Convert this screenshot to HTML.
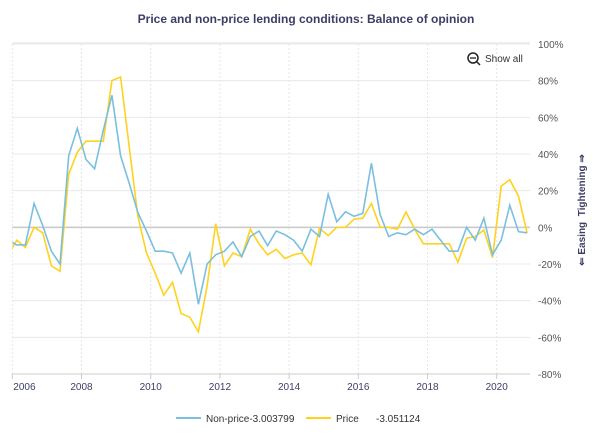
<!DOCTYPE html>
<html><head><meta charset="utf-8"><style>
body{margin:0;background:#fff;font-family:"Liberation Sans",sans-serif;}
svg text{font-family:"Liberation Sans",sans-serif;}
</style></head><body>
<svg width="600" height="432">
<text x="306" y="23" text-anchor="middle" font-size="12" font-weight="bold" fill="#3d3d66">Price and non-price lending conditions: Balance of opinion</text>
<g id="grid"></g>
<g id="series"></g>
<g id="axes"></g>
<g>
<circle cx="473" cy="58" r="5" fill="none" stroke="#222" stroke-width="1.5"/>
<line x1="470" y1="58" x2="476" y2="58" stroke="#222" stroke-width="1.3"/>
<line x1="477" y1="62" x2="480" y2="65" stroke="#222" stroke-width="1.5"/>
<text x="485" y="62" font-size="10" fill="#333">Show all</text>
</g>
<text transform="translate(585,210) rotate(-90)" text-anchor="middle" font-size="10" font-weight="bold" fill="#3d3d66">⇐ Easing&#160;&#160;Tightening ⇒</text>
<g>
<g>
<line x1="176" y1="418" x2="201" y2="418" stroke="#7bbfdf" stroke-width="2"/>
<text x="206" y="422" font-size="10" fill="#333">Non-price-3.003799</text></g>
<g>
<line x1="306" y1="418" x2="331" y2="418" stroke="#ffd21f" stroke-width="2"/>
<text x="336" y="422" font-size="10" fill="#333">Price</text>
<text x="376" y="422" font-size="10" fill="#333">-3.051124</text></g>
</g>
</svg>
<script>
const startYear = 2005.88;
const stepYears = 0.25;
const nonPrice = [-7,-9.6,-9.6,13,1,-13,-20,39,54,37,32,53,72,39,24,8,-2,-13,-13,-14,-25,-14,-42,-20,-15,-13,-8,-16,-5,-2,-10,-2,-4,-7,-13,-1,-5,18,3,8.5,6,7.6,35,7,-5,-3,-4,-1,-4,-1,-7,-13,-13,0,-7,5,-15,-7,12,-2.4,-3];
const price = [-15,-7,-11,0,-3,-21,-24,29,41,47,47,47,80,82,44,6,-14,-25,-37,-30,-47,-49,-57,-32,2,-21,-14,-16,-1,-9,-15,-12,-17,-15,-14,-20.5,-0.5,-4.5,0,0,4.5,5,13,0,0,-1,8.4,-1,-9,-9,-9,-9,-19,-6,-5,-1.5,-16.5,22.5,26,17,-3];
const yTicks = [100,80,60,40,20,0,-20,-40,-60,-80];
const xTicks = [2006,2008,2010,2012,2014,2016,2018,2020];
const L=12.3,R=530,T=44,B=374;
const xs = t => L + (t-2006)*34.6;
const ys = v => T + (100-v)/180*(B-T);
const NS="http://www.w3.org/2000/svg";
function mk(tag,attrs,parent){const e=document.createElementNS(NS,tag);for(const k in attrs)e.setAttribute(k,attrs[k]);parent.appendChild(e);return e;}
const svg=document.querySelector('svg');
const grid=document.getElementById('grid'),axes=document.getElementById('axes'),series=document.getElementById('series');
const defs=mk('defs',{},svg);const cp=mk('clipPath',{id:'clip'},defs);mk('rect',{x:L,y:T-2,width:R-L,height:B-T+4},cp);
mk('rect',{x:L,y:T-2,width:R-L,height:2,fill:'#eee'},grid);
yTicks.forEach(v=>{
 const y=ys(v);
 const ln=mk('line',{x1:L,x2:R,y1:y,y2:y,stroke:v===0?'#c8c8c8':'#e8e8e8','stroke-width':v===0?1.5:1},grid);
 
 
 const t=mk('text',{x:538,y:y+4,'font-size':10,fill:'#555'},axes);t.textContent=v+'%';
 
 
});
xTicks.forEach((yr,i)=>{
 const x=xs(yr);
 const ln=mk('line',{x1:x,x2:x,y1:T,y2:B,stroke:'#e6e6e6','stroke-dasharray':'2,2'},grid);
 
 
 mk('line',{x1:x,x2:x,y1:B,y2:B+5,stroke:'#ccc'},axes);
 const t=mk('text',{x:i===0?x+1:x,y:390,'font-size':10,fill:'#3d3d66','text-anchor':i===0?'start':'middle'},axes);t.textContent=yr;
 
 
});
const ax=mk('line',{x1:L,x2:R,y1:B,y2:B,stroke:'#ccc'},axes);


function path(vals){return vals.map((v,i)=>(i?'L':'M')+xs(startYear+i*stepYears).toFixed(1)+','+ys(v).toFixed(1)).join('');}
const p2=mk('path',{d:path(price),fill:'none',stroke:'#ffd21f','stroke-width':1.6,'clip-path':'url(#clip)'},series);


const p1=mk('path',{d:path(nonPrice),fill:'none',stroke:'#7bbfdf','stroke-width':1.6,'clip-path':'url(#clip)'},series);


</script>
</body></html>
